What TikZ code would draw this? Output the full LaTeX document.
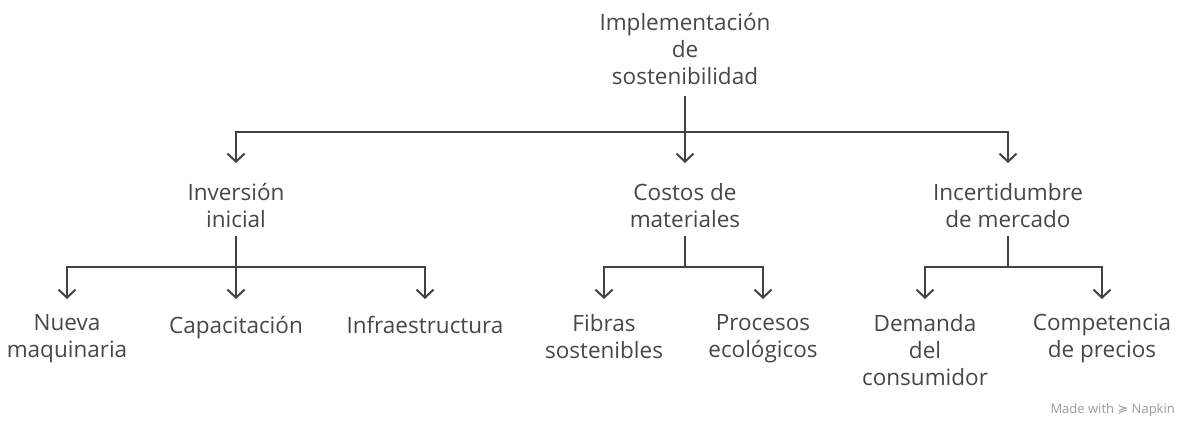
\documentclass[tikz,border=0pt]{standalone}
\usepackage{fontspec}
\setmainfont{Open Sans}
\newfontfamily\symfont{DejaVu Sans}
\usetikzlibrary{arrows.meta}
\definecolor{txt}{HTML}{474747}
\definecolor{lncol}{HTML}{424242}
\definecolor{mark}{HTML}{9A9A9A}
\tikzset{
  lbl/.style={align=center, anchor=north, inner sep=0pt, text=txt,
    font=\fontsize{22.5}{27}\selectfont, execute at begin node=\strut},
  ln/.style={draw=lncol, line width=2pt},
  arr/.style={ln, -{Straight Barb[length=8pt,width=17pt,line width=2pt]}},
}
\begin{document}
\begin{tikzpicture}[x=1pt,y=-1pt]
\useasboundingbox (0,0) rectangle (1177,421);
% nodes
\node[lbl] (top) at (685,13) {Implementación\\de\\sostenibilidad};
\node[lbl] (l2a) at (236,183) {Inversión\\inicial};
\node[lbl] (l2b) at (685,183) {Costos de\\materiales};
\node[lbl] (l2c) at (1008,183) {Incertidumbre\\de mercado};
\node[lbl] (n1) at (67,314) {Nueva\\maquinaria};
\node[lbl] (n2) at (236,314) {Capacitación};
\node[lbl] (n3) at (425,314) {Infraestructura};
\node[lbl] (n4) at (604,314) {Fibras\\sostenibles};
\node[lbl] (n5) at (763,314) {Procesos\\ecológicos};
\node[lbl] (n6) at (925,314) {Demanda\\del\\consumidor};
\node[lbl] (n7) at (1102,314) {Competencia\\de precios};
% junctions
\coordinate (j0) at (685,132);
\coordinate (ja) at (236,267);
\coordinate (jb) at (685,267);
\coordinate (jc) at (1008,267);
% level 1 -> 2
\draw[ln] (top.south |- 0,96) -- (j0);
\draw[arr, shorten >=20pt] (j0) -| (l2a);
\draw[arr, shorten >=20pt] (j0) -- (l2b);
\draw[arr, shorten >=20pt] (j0) -| (l2c);
% level 2 -> 3
\draw[ln] (l2a.south |- 0,236) -- (ja);
\draw[ln] (l2b.south |- 0,236) -- (jb);
\draw[ln] (l2c.south |- 0,236) -- (jc);
\draw[arr, shorten >=15pt] (ja) -| (n1);
\draw[arr, shorten >=15pt] (ja) -- (n2);
\draw[arr, shorten >=15pt] (ja) -| (n3);
\draw[arr, shorten >=15pt] (jb) -| (n4);
\draw[arr, shorten >=15pt] (jb) -| (n5);
\draw[arr, shorten >=15pt] (jc) -| (n6);
\draw[arr, shorten >=15pt] (jc) -| (n7);
% watermark
\node[anchor=east, inner sep=0pt, text=mark, font=\fontsize{13}{15}\selectfont] (wm) at (1175,410) {Made with {\symfont ≽} Napkin};
\end{tikzpicture}
\end{document}
